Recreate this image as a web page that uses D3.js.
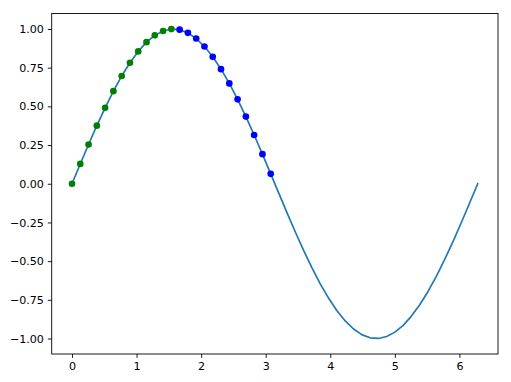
<!DOCTYPE html>
<html>
<head>
<meta charset="utf-8">
<script src="https://cdn.jsdelivr.net/npm/d3@7"></script>
<style>
  body { margin: 0; background: #fff; }
  text { font-family: "DejaVu Sans", sans-serif; }
</style>
</head>
<body>
<svg id="canvas" width="511" height="382"></svg>
<script>
// curve samples (x, sin x)
var xs = [0, 0.1282, 0.2565, 0.3847, 0.5129, 0.6411, 0.7694, 0.8976, 1.0258, 1.1541,
  1.2823, 1.4105, 1.5387, 1.6670, 1.7952, 1.9234, 2.0517, 2.1799, 2.3081, 2.4363,
  2.5646, 2.6928, 2.8210, 2.9493, 3.0775, 3.2057, 3.3339, 3.4622, 3.5904, 3.7186,
  3.8468, 3.9751, 4.1033, 4.2315, 4.3598, 4.4880, 4.6162, 4.7444, 4.8727, 5.0009,
  5.1291, 5.2574, 5.3856, 5.5138, 5.6420, 5.7703, 5.8985, 6.0267, 6.1550, 6.2832];
var ys = [0, 0.1279, 0.2537, 0.3753, 0.4907, 0.5981, 0.6959, 0.7818, 0.8550, 0.9148,
  0.9587, 0.9872, 0.9995, 0.9954, 0.9749, 0.9385, 0.8866, 0.8202, 0.7403, 0.6482,
  0.5455, 0.4339, 0.3151, 0.1911, 0.0641, -0.0641, -0.1911, -0.3151, -0.4339, -0.5455,
  -0.6482, -0.7403, -0.8202, -0.8866, -0.9385, -0.9749, -0.9954, -0.9995, -0.9872, -0.9587,
  -0.9148, -0.8550, -0.7818, -0.6959, -0.5981, -0.4907, -0.3753, -0.2537, -0.1279, 0];

// which samples get a marker, and its colour
var greenIdx = [0, 1, 2, 3, 4, 5, 6, 7, 8, 9, 10, 11, 12];
var blueIdx = [13, 14, 15, 16, 17, 18, 19, 20, 21, 22, 23, 24];

var xTicks = [0, 1, 2, 3, 4, 5, 6];
var yTicks = [-1, -0.75, -0.5, -0.25, 0, 0.25, 0.5, 0.75, 1];

var svg = d3.select("#canvas"),
  margin = {left: 51.7, right: 13, top: 13.5, bottom: 28},
  width = +svg.attr("width") - margin.left - margin.right,
  height = +svg.attr("height") - margin.top - margin.bottom;

var x = d3.scaleLinear().domain([-0.31416, 6.59734]).range([margin.left, margin.left + width]);
var y = d3.scaleLinear().domain([-1.1, 1.1]).range([margin.top + height, margin.top]);

var minus = function(v, f) { return d3.format(f)(v).replace("-", "\u2212"); };

var xAxis = svg.append("g")
  .attr("transform", "translate(0," + (margin.top + height) + ")")
  .call(d3.axisBottom(x).tickValues(xTicks).tickFormat(function(d) { return minus(d, "d"); })
    .tickSize(3.9).tickPadding(3.9));

var yAxis = svg.append("g")
  .attr("transform", "translate(" + margin.left + ",0)")
  .call(d3.axisLeft(y).tickValues(yTicks).tickFormat(function(d) { return minus(d, ".2f"); })
    .tickSize(3.9).tickPadding(3.9));

[xAxis, yAxis].forEach(function(a) {
  a.select(".domain").remove();
  a.selectAll("line").attr("stroke", "#000").attr("stroke-width", 0.9);
  a.selectAll("text").attr("font-size", "11.1px").attr("fill", "#000")
    .attr("font-family", "DejaVu Sans, sans-serif");
});

var line = d3.line()
  .x(function(d) { return x(d); })
  .y(function(d, i) { return y(ys[i]); });

svg.append("path")
  .datum(xs)
  .attr("d", line)
  .attr("fill", "none")
  .attr("stroke", "#1f77b4")
  .attr("stroke-width", 1.67)
  .attr("stroke-linejoin", "round")
  .attr("stroke-linecap", "square");

function dots(idx, color) {
  svg.append("g").selectAll("circle")
    .data(idx)
    .enter().append("circle")
    .attr("cx", function(i) { return x(xs[i]); })
    .attr("cy", function(i) { return y(ys[i]); })
    .attr("r", 3.33)
    .attr("fill", color);
}
dots(greenIdx, "#008000");
dots(blueIdx, "#0000ff");

// frame
svg.append("rect")
  .attr("x", margin.left)
  .attr("y", margin.top)
  .attr("width", width)
  .attr("height", height)
  .attr("fill", "none")
  .attr("stroke", "#000")
  .attr("stroke-width", 0.9);
</script>
</body>
</html>
